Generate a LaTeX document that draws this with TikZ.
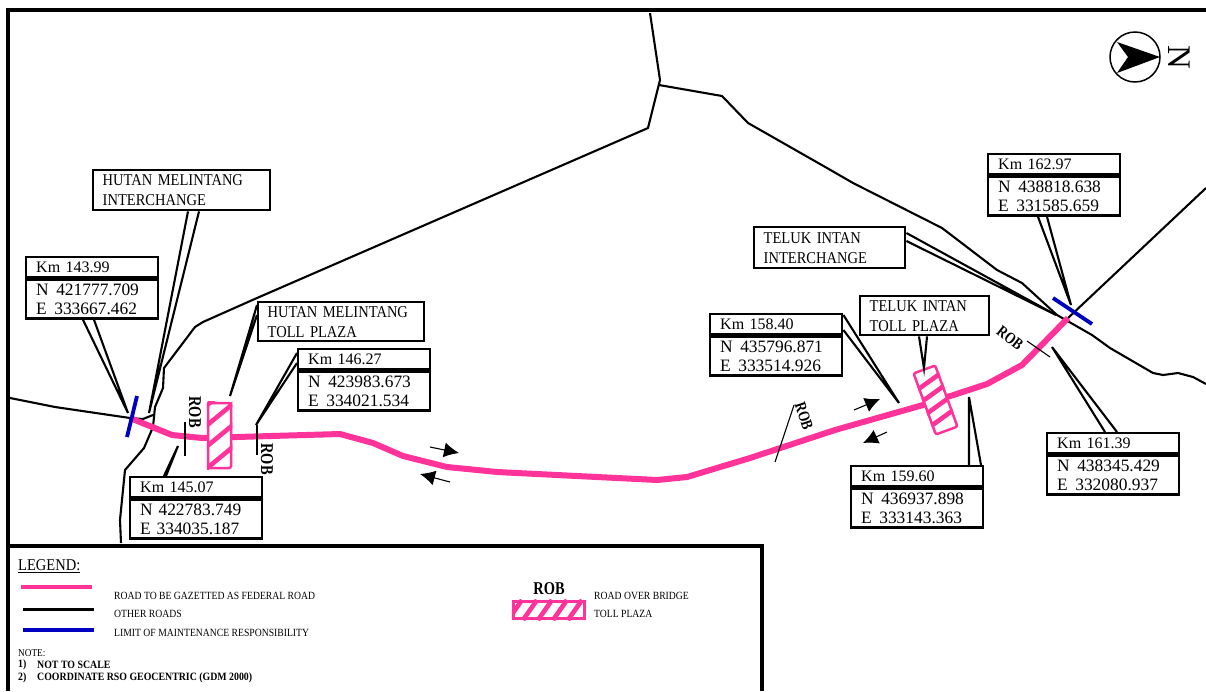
\documentclass[tikz,border=0pt]{standalone}
\usepackage{fontspec}
\setmainfont{Liberation Serif}
\newfontfamily\capsfont[FakeStretch=0.88]{Liberation Serif}
\newfontfamily\robfont[FakeStretch=0.8]{Liberation Serif Bold}
\usetikzlibrary{arrows.meta, positioning}
\definecolor{roadpink}{HTML}{FF3399}
\definecolor{limitblue}{HTML}{0000C0}
\tikzset{
  kmtitle/.style={draw, line width=2.4pt, rectangle, anchor=north west, align=left, text width=112pt, minimum height=20pt, inner xsep=10pt, inner ysep=0pt, font=\fontsize{16}{19}\selectfont},
  kmvalue/.style={draw, line width=2.4pt, rectangle, align=left, text width=112pt, minimum height=39pt, inner xsep=10pt, inner ysep=0pt, below=0pt of #1, font=\fontsize{17.4}{19}\selectfont},
  placebox/.style={draw, line width=2.4pt, rectangle, anchor=north west, align=left, minimum height=39pt, inner xsep=9.5pt, inner ysep=0pt, font=\capsfont\fontsize{16.5}{20}\selectfont},
  tollbox/.style={draw=roadpink, fill=white, line width=2.5pt, rectangle, rounded corners=2pt, minimum width=23pt, minimum height=65pt, inner sep=0pt},
  road/.style={line width=2.1pt, line join=round},
  leader/.style={line width=2.1pt},
  tick/.style={line width=1.1pt},
  fedroad/.style={line width=6pt, draw=roadpink, line join=round},
  limit/.style={line width=3.8pt, draw=limitblue},
  flow/.style={line width=1.1pt, -{Latex[length=15pt,width=15pt]}},
  stripe/.style={line width=4.6pt, draw=roadpink},
  roblabel/.style={inner sep=0pt, font=\robfont\fontsize{18}{18}\selectfont},
  legendtext/.style={inner sep=0pt, anchor=west, font=\capsfont\fontsize{11}{11}\selectfont},
  notetext/.style={inner sep=0pt, anchor=west, font=\capsfont\bfseries\fontsize{11.2}{11.2}\selectfont}
}
\newcommand{\valgap}{\hspace{7.5pt}}
\begin{document}
\begin{tikzpicture}[x=1pt, y=-1pt]
        \useasboundingbox (0,0) rectangle (1206,691);

        % Draw the frame
        \draw [line width=4pt] (1206,10) -- (8,10) -- (8,691);
        \draw [line width=4pt] (8,546) -- (762,546) -- (762,691);

        % Draw the other roads
        \draw [road] (650,13) -- (660,80) -- (648,128) -- (257,298) -- (203,322) -- (195,327) -- (164,368) -- (163,388) -- (155,407) -- (153,427) -- (144,448) -- (125,470) -- (120,520) -- (121,543);
        \draw [road] (10,398) -- (55,407) -- (130,418) -- (143,419) -- (153,415);
        \draw [road] (659,85) -- (722,96) -- (748,123) -- (827,168) -- (853,183) -- (942,228) -- (997,270) -- (1022,283) -- (1057,315) -- (1092,335) -- (1110,348) -- (1153,373) -- (1163,375) -- (1178,373) -- (1193,377) -- (1206,384);
        \draw [road] (1206,188) -- (1068,318);

        % Draw the gazetted road
        \draw [fedroad] (130,418) -- (172,435) -- (202,438) -- (340,434) -- (373,443) -- (403,456) -- (447,467) -- (497,472) -- (657,480) -- (687,477) -- (750,458) -- (835,430) -- (923,405) -- (987,384) -- (1022,365) -- (1068,318);

        % Draw the limits of maintenance
        \draw [limit] (137,396) -- (127,437);
        \draw [limit] (1053,298) -- (1092,324);

        % Draw the toll plazas
        \node (hutanplaza) [tollbox] at (219.5,435.5) {};
        \node (telukplaza) [tollbox, rotate=20] at (935.5,400) {};
        \begin{scope}
          \clip (hutanplaza.north west) rectangle (hutanplaza.south east);
          \foreach \s in {404,424,445,467}
            \draw [stripe] (200,\s+7) -- (240,\s-26);
        \end{scope}
        \begin{scope}
          \clip (telukplaza.north west) -- (telukplaza.north east) -- (telukplaza.south east) -- (telukplaza.south west) -- cycle;
          \foreach \s in {383,398,413.5,429}
            \draw [stripe] (900,\s+19.4) -- (970,\s-31);
        \end{scope}

        % Draw the boxes
        \node (hutanchange) [placebox, text width=158pt, minimum height=40pt] at (92,169) {HUTAN MELINTANG\\INTERCHANGE};
        \node (hutantoll)   [placebox, text width=147pt] at (257,301) {HUTAN MELINTANG\\TOLL PLAZA};
        \node (telukchange) [placebox, text width=132pt, minimum height=41pt] at (753,226) {TELUK INTAN\\INTERCHANGE};
        \node (teluktoll)   [placebox, text width=110pt] at (859,295) {TELUK INTAN\\TOLL PLAZA};

        \node (kma) [kmtitle] at (25,256) {Km 143.99};
        \node (kmaval) [kmvalue=kma] {N\valgap 421777.709\\E\valgap 333667.462};
        \node (kmb) [kmtitle] at (129,476) {Km 145.07};
        \node (kmbval) [kmvalue=kmb] {N 422783.749\\E 334035.187};
        \node (kmc) [kmtitle] at (297,348) {Km 146.27};
        \node (kmcval) [kmvalue=kmc] {N\valgap 423983.673\\E\valgap 334021.534};
        \node (kmd) [kmtitle] at (709,313) {Km 158.40};
        \node (kmdval) [kmvalue=kmd] {N\valgap 435796.871\\E\valgap 333514.926};
        \node (kme) [kmtitle] at (850,465) {Km 159.60};
        \node (kmeval) [kmvalue=kme] {N\valgap 436937.898\\E\valgap 333143.363};
        \node (kmf) [kmtitle] at (1046,432) {Km 161.39};
        \node (kmfval) [kmvalue=kmf] {N\valgap 438345.429\\E\valgap 332080.937};
        \node (kmg) [kmtitle] at (987,153) {Km 162.97};
        \node (kmgval) [kmvalue=kmg] {N\valgap 438818.638\\E\valgap 331585.659};

        % Free ends of the leaders
        \coordinate (enda) at (128,413);
        \coordinate (endb) at (178,446);
        \coordinate (endc) at (256,425);
        \coordinate (endd) at (899,403);
        \coordinate (ende) at (969,397);
        \coordinate (endf) at (1052,347);
        \coordinate (endg) at (1071,305);
        \coordinate (endchangea) at (149,413);
        \coordinate (endchangeb) at (1056,315);
        \coordinate (endtolla) at (230,396);

        % Draw the leaders
        \draw [leader] ([xshift=58pt]kmaval.south west) -- (enda) -- ([xshift=69pt]kmaval.south west);
        \draw [leader] ([xshift=35pt]kmb.north west) -- (endb) -- ([xshift=37pt]kmb.north west);
        \draw [leader] ([yshift=-5pt]kmc.north west) -- (endc) -- ([yshift=-15pt]kmc.north west);
        \draw [leader] ([yshift=-2pt]kmd.north east) -- (endd) -- ([yshift=-17pt]kmd.north east);
        \draw [leader] ([xshift=119pt]kme.north west) -- (ende) -- ([xshift=131pt]kme.north west);
        \draw [leader] ([xshift=59pt]kmf.north west) -- (endf) -- ([xshift=71pt]kmf.north west);
        \draw [leader] ([xshift=51pt]kmgval.south west) -- (endg) -- ([xshift=60pt]kmgval.south west);
        \draw [leader] ([xshift=96pt]hutanchange.south west) -- (endchangea) -- ([xshift=107pt]hutanchange.south west);
        \draw [leader] ([yshift=-7pt]telukchange.north east) -- (endchangeb) -- ([yshift=-15pt]telukchange.north east);
        \draw [leader] ([yshift=-4pt]hutantoll.north west) -- (endtolla) -- ([yshift=-14pt]hutantoll.north west);
        \draw [leader] ([xshift=60pt]teluktoll.south west) -- (telukplaza.north) -- ([xshift=68pt]teluktoll.south west);

        % Draw the bridges
        \coordinate (roba) at (185,422);
        \coordinate (robb) at (185,456);
        \coordinate (robc) at (257,425);
        \coordinate (robd) at (257,455);
        \coordinate (robe) at (794,405);
        \coordinate (robf) at (775,462);
        \coordinate (robg) at (1027,341);
        \coordinate (robh) at (1050,357);
        \draw [tick] (roba) -- (robb);
        \draw [tick] (robc) -- (robd);
        \draw [tick] (robe) -- (robf);
        \draw [tick] (robg) -- (robh);
        \node (roblabela) [roblabel, rotate=-90] at (195,412) {ROB};
        \node (roblabelb) [roblabel, rotate=-90] at (267,459) {ROB};
        \node (roblabelc) [roblabel, rotate=-72, scale=.9] at (804,416) {ROB};
        \node (roblabeld) [roblabel, rotate=-38, scale=.9] at (1010,338) {ROB};

        % Draw the direction arrows
        \coordinate (flowa) at (430,447);
        \coordinate (flowb) at (459,453);
        \coordinate (flowc) at (450,482);
        \coordinate (flowd) at (420,474);
        \coordinate (flowe) at (854,410);
        \coordinate (flowf) at (880,399);
        \coordinate (flowg) at (887,432);
        \coordinate (flowh) at (863,443);
        \draw [flow] (flowa) -- (flowb);
        \draw [flow] (flowc) -- (flowd);
        \draw [flow] (flowe) -- (flowf);
        \draw [flow] (flowg) -- (flowh);

        % Draw the north sign
        \node (northring) [draw, circle, line width=1.5pt, minimum size=50pt, inner sep=0pt] at (1135,57) {};
        \fill (1160,57) -- (1117,42) -- (1128,57) -- (1117,73) -- cycle;
        \node (northletter) [rotate=-90, inner sep=0pt, font=\fontsize{33}{33}\selectfont] at (1179,57) {N};

        % Draw the legend
        \node (legendhead) [legendtext, font=\capsfont\fontsize{16.5}{16.5}\selectfont] at (18,566) {\underline{LEGEND:}};
        \coordinate (keya) at (21,587);
        \coordinate (keyb) at (92,587);
        \coordinate (keyc) at (23,609);
        \coordinate (keyd) at (94,609);
        \coordinate (keye) at (23,630);
        \coordinate (keyf) at (94,630);
        \draw [line width=4.5pt, draw=roadpink] (keya) -- (keyb);
        \draw [line width=3pt] (keyc) -- (keyd);
        \draw [line width=3.5pt, draw=limitblue] (keye) -- (keyf);
        \node (legendfed)   [legendtext] at (114,596) {ROAD TO BE GAZETTED AS FEDERAL ROAD};
        \node (legendother) [legendtext] at (114,614) {OTHER ROADS};
        \node (legendlimit) [legendtext] at (114,633) {LIMIT OF MAINTENANCE RESPONSIBILITY};
        \node (legendrob)   [roblabel] at (549,589) {ROB};
        \node (legendtoll)  [rectangle, draw=roadpink, fill=white, line width=3.5pt, minimum width=71pt, minimum height=17pt, inner sep=0pt] at (549,610) {};
        \begin{scope}
          \clip (legendtoll.north west) rectangle (legendtoll.south east);
          \foreach \s in {508,523,538,553,568}
            \draw [stripe] (\s,620) -- (\s+14,600);
        \end{scope}
        \node (legendbridge) [legendtext] at (594,596) {ROAD OVER BRIDGE};
        \node (legendplaza)  [legendtext] at (594,614) {TOLL PLAZA};
        \node (notehead) [legendtext, font=\capsfont\fontsize{10.5}{10.5}\selectfont] at (18,653) {NOTE:};
        \node (noteone)  [notetext] at (18,665) {1)};
        \node (notetwo)  [notetext] at (18,678) {2)};
        \node (notescale) [notetext] at (37,665) {NOT TO SCALE};
        \node (notegeo)   [notetext] at (37,678) {COORDINATE RSO GEOCENTRIC (GDM 2000)};
    \end{tikzpicture}
\end{document}
